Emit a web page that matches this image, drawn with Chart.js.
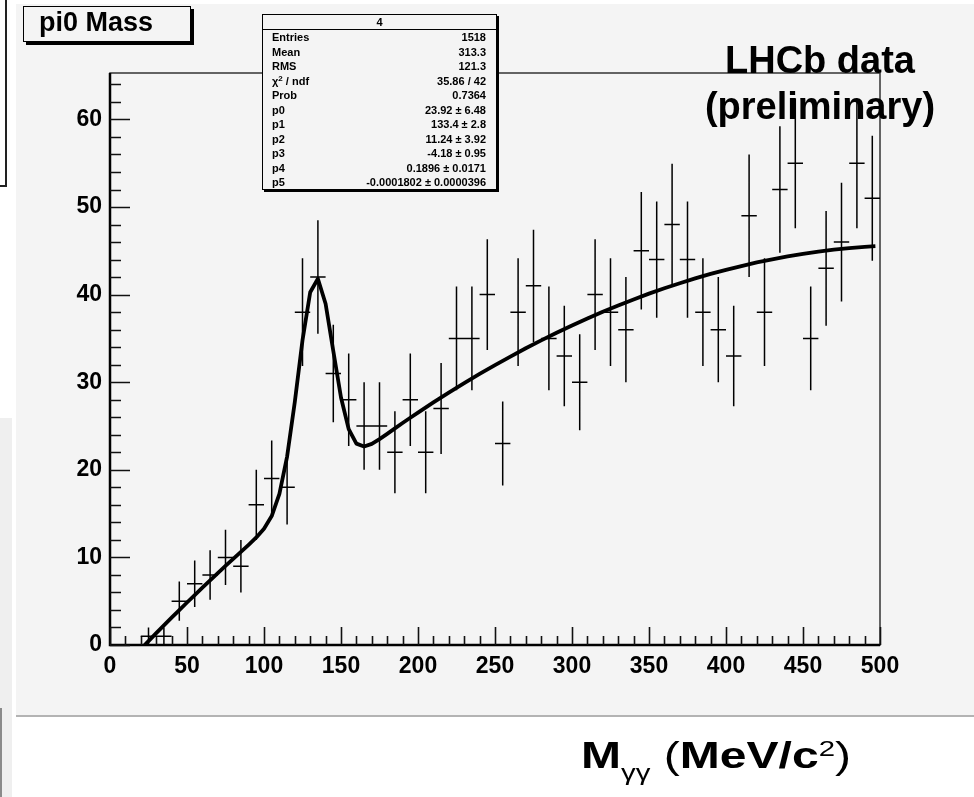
<!DOCTYPE html>
<html>
<head>
<meta charset="utf-8">
<script src="https://cdn.jsdelivr.net/npm/chart.js@4.4.1/dist/chart.umd.min.js"></script>
<style>
  html, body { margin:0; padding:0; background:#fff; }
  #wrap { position:relative; width:974px; height:797px; overflow:hidden; font-family:'Liberation Sans', Arial, Helvetica, sans-serif; }
  .abs { position:absolute; white-space:nowrap; }
  #panel { left:16px; top:4px; width:958px; height:711px; background:#f4f4f4; border-bottom:2px solid #b3b3b3; }
  #c { position:absolute; left:0; top:0; }
  #titlebox { left:23px; top:6px; width:166px; height:34px; background:#f4f4f4; border:1px solid #000; box-shadow:3px 3px 0 #000; }
  #stats { left:262px; top:14px; width:233px; height:174px; background:#f4f4f4; border:1px solid #000; box-shadow:2px 2px 0 #000; font-weight:bold; font-size:11px; color:#000; }
  #stats .hdr { position:absolute; left:0; top:0; width:233px; height:14px; border-bottom:1px solid #000; text-align:center; line-height:14px; }
  #stats .row { position:absolute; left:9px; width:214px; height:14px; line-height:14px; }
  #stats .row .l { position:absolute; left:0; top:0; }
  #stats .row .r { position:absolute; right:0; top:0; }
  #stats .sup { position:relative; top:-4px; font-size:8px; line-height:0; }
  .big { font-weight:bold; font-size:38px; line-height:38px; text-align:center; color:#000; }
</style>
</head>
<body>
<div id="wrap">
  <div class="abs" id="panel"></div>
  <div class="abs" style="left:0;top:0;width:5px;height:185px;border-right:2px solid #222;border-bottom:2px solid #222;"></div>
  <div class="abs" style="left:0;top:418px;width:12px;height:379px;background:#efefef;"></div>
  <div class="abs" style="left:0;top:708px;width:2px;height:89px;background:#8a8a8a;"></div>
  <canvas id="c" width="974" height="797"></canvas>
  <div class="abs" id="titlebox"></div>
  <div class="abs" style="left:39px;top:9px;font-weight:bold;font-size:27px;line-height:27px;">pi0 Mass</div>
  <div class="abs" id="stats"></div>
  <div class="abs big" style="left:700px;top:41px;width:240px;">LHCb data</div>
  <div class="abs big" style="left:700px;top:87px;width:240px;">(preliminary)</div>
  <div class="abs" id="xtitle" style="left:581px;top:738px;font-size:36px;line-height:36px;color:#000;transform-origin:0 0;">
    <b>M</b><span style="font-size:22px;position:relative;top:12px;">γγ</span> <span>(</span><b>MeV/c</b><span style="font-size:22px;position:relative;top:-12px;">2</span><span>)</span>
  </div>
</div>
<script>
// ---- data ----
const binCenters = [25,35,45,55,65,75,85,95,105,115,125,135,145,155,165,175,185,195,205,215,225,235,245,255,265,275,285,295,305,315,325,335,345,355,365,375,385,395,405,415,425,435,445,455,465,475,485,495];
const counts = [1,1,5,7,8,10,9,16,19,18,38,42,31,28,25,25,22,28,22,27,35,35,40,23,38,41,35,33,30,40,38,36,45,44,48,44,38,36,33,49,38,52,55,35,43,46,55,51];
const errors = [1,1,2.24,2.65,2.83,3.16,3,4,4.36,4.24,6.16,6.48,5.57,5.29,5,5,4.69,5.29,4.69,5.2,5.92,5.92,6.32,4.8,6.16,6.4,5.92,5.74,5.48,6.32,6.16,6,6.71,6.63,6.93,6.63,6.16,6,5.74,7,6.16,7.21,7.42,5.92,6.56,6.78,7.42,7.14];
const binHalfWidth = 5;
const fitX = [22.5,25,30,35,40,45,50,55,60,65,70,75,80,85,90,95,100,105,110,115,120,125,130,135,140,145,150,155,160,165,170,175,180,185,190,195,200,210,220,230,240,250,260,270,280,290,300,310,320,330,340,350,360,370,380,390,400,410,420,430,440,450,460,470,480,490,497];
const fitY = [0,0.45,1.35,2.24,3.12,3.99,4.85,5.70,6.55,7.38,8.21,9.03,9.84,10.63,11.44,12.28,13.27,14.72,17.24,21.51,27.73,34.79,40.27,41.81,38.96,33.56,28.25,24.65,22.99,22.66,22.96,23.51,24.11,24.73,25.34,25.94,26.53,27.69,28.81,29.90,30.94,31.96,32.93,33.88,34.78,35.65,36.48,37.28,38.04,38.76,39.45,40.11,40.72,41.30,41.85,42.36,42.83,43.26,43.67,44.03,44.36,44.65,44.91,45.13,45.31,45.46,45.53];
const xTicks = [0,50,100,150,200,250,300,350,400,450,500];
const yTicks = [0,10,20,30,40,50,60];
const statsHeader = '4';
const statsLabels = ['Entries','Mean','RMS','χ<span class="sup">2</span> / ndf','Prob','p0','p1','p2','p3','p4','p5'];
const statsValues = ['1518','313.3','121.3','35.86 / 42','0.7364','23.92 ± 6.48','133.4 ± 2.8','11.24 ± 3.92','-4.18 ± 0.95','0.1896 ± 0.0171','-0.0001802 ± 0.0000396'];

// ---- stats box ----
const st = document.getElementById('stats');
let html = '<div class="hdr">' + statsHeader + '</div>';
statsLabels.forEach((l, i) => {
  const top = 15 + i * 14.5;
  html += '<div class="row" style="top:' + top + 'px"><span class="l">' + l + '</span><span class="r">' + statsValues[i] + '</span></div>';
});
st.innerHTML = html;

// ---- error bar segments (gaps separate each cross) ----
const vSeg = [], hSeg = [];
binCenters.forEach((c, i) => {
  vSeg.push({x:c, y:counts[i] - errors[i]}, {x:c, y:counts[i] + errors[i]}, {x:c, y:null});
  hSeg.push({x:c - binHalfWidth, y:counts[i]}, {x:c + binHalfWidth, y:counts[i]}, {x:c + binHalfWidth, y:null});
});
const fitData = fitX.map((x, i) => ({x, y:fitY[i]}));

Chart.defaults.font.family = "'Liberation Sans', Arial, Helvetica, sans-serif";

const rootFrame = {
  id:'rootFrame',
  beforeDatasetsDraw(chart) {
    const {ctx, chartArea:a, scales:{x, y}} = chart;
    ctx.save();
    ctx.strokeStyle = '#333';
    ctx.lineWidth = 1.5;
    ctx.strokeRect(a.left, a.top, a.right - a.left, a.bottom - a.top);
    ctx.strokeStyle = '#000';
    ctx.lineWidth = 2.5;
    ctx.beginPath();
    ctx.moveTo(a.left, a.top); ctx.lineTo(a.left, a.bottom); ctx.lineTo(a.right, a.bottom);
    ctx.stroke();
    ctx.lineWidth = 1.6;
    ctx.strokeStyle = '#111';
    ctx.beginPath();
    for (let v = x.min; v <= x.max + 0.001; v += 10) {
      const px = Math.round(x.getPixelForValue(v)) + 0.5;
      const len = (v % 50 === 0) ? 18 : 9;
      ctx.moveTo(px, a.bottom); ctx.lineTo(px, a.bottom - len);
    }
    for (let v = 0; v <= y.max; v += 2) {
      const py = Math.round(y.getPixelForValue(v)) + 0.5;
      const len = (v % 10 === 0) ? 20 : 11;
      ctx.moveTo(a.left, py); ctx.lineTo(a.left + len, py);
    }
    ctx.stroke();
    ctx.restore();
  }
};

new Chart(document.getElementById('c'), {
  type:'line',
  data:{
    datasets:[
      {data:vSeg, borderColor:'#000', borderWidth:1.5, pointRadius:0, spanGaps:false, tension:0},
      {data:hSeg, borderColor:'#000', borderWidth:1.5, pointRadius:0, spanGaps:false, tension:0},
      {data:fitData, borderColor:'#000', borderWidth:3.8, pointRadius:0, tension:0, borderJoinStyle:'round'}
    ]
  },
  options:{
    responsive:false, animation:false, events:[],
    layout:{padding:{left:0, top:73, right:94, bottom:0}},
    plugins:{legend:{display:false}, tooltip:{enabled:false}, title:{display:false}},
    scales:{
      x:{type:'linear', min:0, max:500,
        afterFit(s){ s.height = 152; },
        afterBuildTicks(s){ s.ticks = xTicks.map(v => ({value:v})); },
        grid:{display:false, drawTicks:false}, border:{display:false},
        ticks:{padding:8, color:'#000', font:{size:23, weight:'bold'}, maxRotation:0, autoSkip:false}},
      y:{type:'linear', min:0, max:65.3,
        afterFit(s){ s.width = 110; },
        afterBuildTicks(s){ s.ticks = yTicks.map(v => ({value:v})); },
        grid:{display:false, drawTicks:false}, border:{display:false},
        ticks:{padding:8, color:'#000', font:{size:23, weight:'bold'}, autoSkip:false}}
    }
  },
  plugins:[rootFrame]
});

// stretch x title to reference span
const xt = document.getElementById('xtitle');
const w = xt.getBoundingClientRect().width;
xt.style.transform = 'scaleX(' + (270 / w) + ')';
</script>
</body>
</html>
